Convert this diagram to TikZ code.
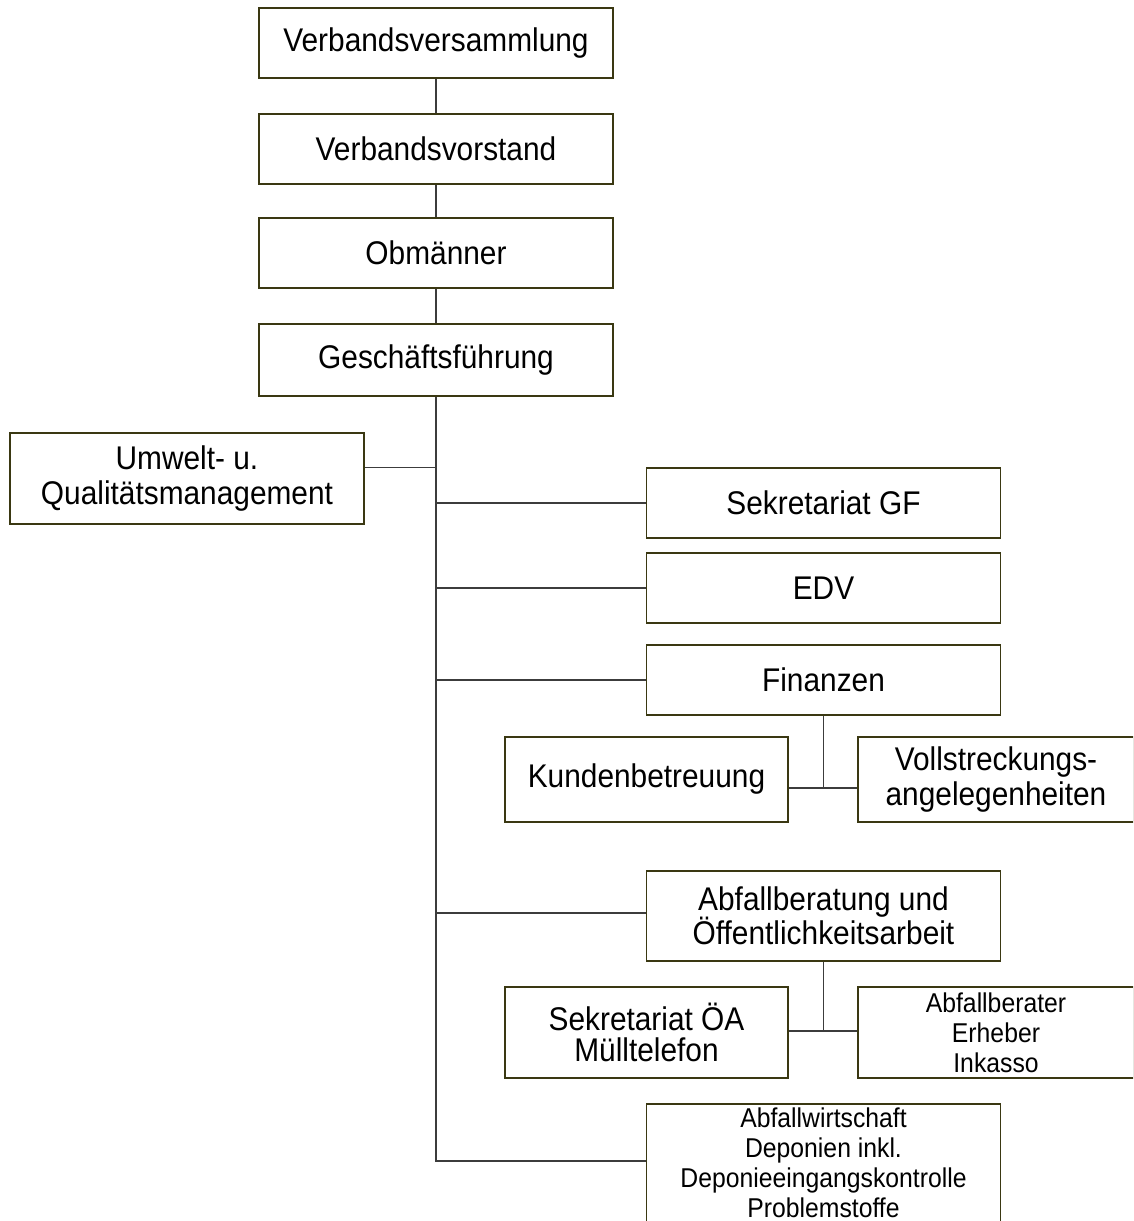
\documentclass[tikz,border=0pt]{standalone}
\usepackage{fontspec}
\setmainfont{Liberation Sans}[FakeStretch=0.91]
\definecolor{boxcol}{RGB}{58,56,18}
\definecolor{linecol}{RGB}{60,60,60}
\tikzset{
  box/.style={draw=boxcol, line width=1.8pt, fill=white, minimum width=354pt,
    minimum height=70pt, inner sep=0pt, align=center,
    font=\fontsize{32.8}{34.5}\selectfont},
  smalltext/.style={font=\fontsize{27.2}{30}\selectfont},
  tighttext/.style={font=\fontsize{32.8}{31}\selectfont},
  link/.style={draw=linecol, line width=1.4pt}
}
\begin{document}
\begin{tikzpicture}[x=1pt,y=-1pt]
\useasboundingbox (0,0) rectangle (1133,1221);
\clip (0,0) rectangle (1133,1221);
% top chain
\node[box] (vv)  at (436,43)  {Verbandsversammlung};
\node[box] (vvo) at (436,149) {Verbandsvorstand};
\node[box] (obm) at (436,253) {Obmänner};
\node[box, minimum height=72pt] (gf) at (436,360) {Geschäftsführung};
% staff unit left
\node[box, minimum height=91pt] (uq) at (187,478.5) {Umwelt- u.\\Qualitätsmanagement};
% right departments
\node[box] (sgf) at (823.5,503) {Sekretariat GF};
\node[box] (edv) at (823.5,588) {EDV};
\node[box] (fin) at (823.5,680) {Finanzen};
\node[box, minimum width=283pt, minimum height=85pt] (kund) at (646.5,779.5) {Kundenbetreuung};
\node[box, minimum width=276pt, minimum height=85pt] (voll) at (996,779.5) {Vollstreckungs-\\angelegenheiten};
\node[box, minimum height=90pt] (ab) at (823.5,916) {Abfallberatung und\\Öffentlichkeitsarbeit};
\node[box, tighttext, minimum width=283pt, minimum height=91pt] (soa) at (646.5,1032.5) {Sekretariat ÖA\\Mülltelefon};
\node[box, smalltext, minimum width=276pt, minimum height=91pt] (aber) at (996,1032.5) {Abfallberater\\Erheber\\Inkasso};
\node[box, smalltext, anchor=north, inner ysep=4pt] (aw) at (823.5,1103) {Abfallwirtschaft\\Deponien inkl.\\Deponieeingangskontrolle\\Problemstoffe};
% connectors of the chain
\draw[link] (vv.south) -- (vvo.north);
\draw[link] (vvo.south) -- (obm.north);
\draw[link] (obm.south) -- (gf.north);
% trunk
\coordinate (awj) at ([yshift=-58pt]aw.north west);
\draw[link] (gf.south) |- (awj);
\coordinate (uqj) at ([yshift=11pt]uq.east);
\draw[link] (uqj) -- (uqj -| gf.south);
\draw[link] (sgf.west) -- (sgf.west -| gf.south);
\draw[link] (edv.west) -- (edv.west -| gf.south);
\draw[link] (fin.west) -- (fin.west -| gf.south);
\coordinate (abj) at ([yshift=3pt]ab.west);
\draw[link] (abj) -- (abj -| gf.south);
% Finanzen sub units
\coordinate (kj) at ([yshift=-8.5pt]kund.east);
\draw[link] (fin.south) -- (fin.south |- kj);
\draw[link] (kj) -- (kj -| voll.west);
% Abfallberatung sub units
\coordinate (sj) at ([yshift=1.5pt]soa.east);
\draw[link] (ab.south) -- (ab.south |- sj);
\draw[link] (sj) -- (sj -| aber.west);
\end{tikzpicture}
\end{document}
